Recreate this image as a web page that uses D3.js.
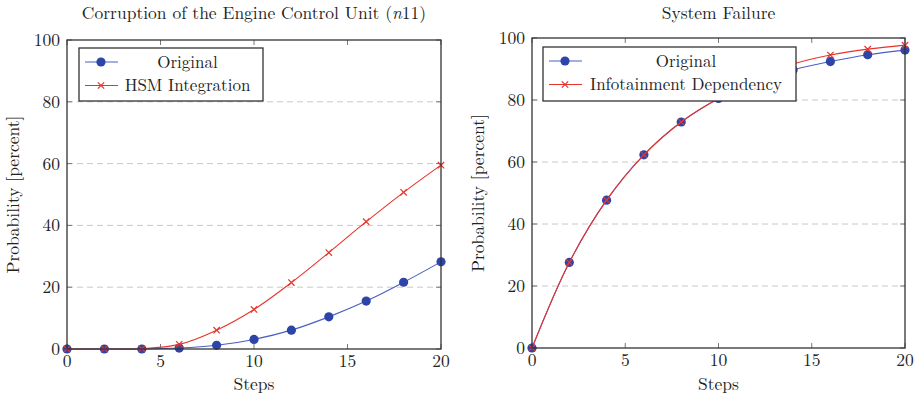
<!DOCTYPE html>
<html lang="en">
<head>
<meta charset="UTF-8">
<title>Probability charts</title>
<style>
  body { margin: 0; background: #fff; }
</style>
</head>
<body>
<script src="https://cdnjs.cloudflare.com/ajax/libs/d3/7.8.5/d3.min.js"></script>
<script>
// data
var steps = [0, 2, 4, 6, 8, 10, 12, 14, 16, 18, 20];
var ecuOriginal = [0, 0, 0, 0.3, 1.2, 3.1, 6.1, 10.4, 15.5, 21.6, 28.2];
var ecuHsm      = [0, 0, 0.1, 1.5, 6.1, 12.8, 21.5, 31.2, 41.2, 50.7, 59.5];
var sysOriginal = [0, 27.6, 47.7, 62.3, 72.9, 80.5, 86.0, 89.7, 92.4, 94.6, 96.1];
var sysInfo     = [0, 27.6, 47.7, 62.3, 72.9, 80.5, 87.2, 91.6, 94.5, 96.4, 97.7];
var xTicks = [0, 5, 10, 15, 20];
var yTicks = [0, 20, 40, 60, 80, 100];

var blueLine = "#4a5ec4", blueMark = "#2d44a8", red = "#e8332c";
var FONT = "'Latin Modern Roman', 'Liberation Serif'";
var FS = "17.5px";

var svg = d3.select("body").append("svg")
    .attr("width", 921).attr("height", 395);

function txt(sel, size) {
  return sel.style("font-family", FONT).style("font-size", size || FS).attr("fill", "#222");
}

function panel(opt) {
  var x = d3.scaleLinear().domain([0, 20]).range([opt.left, opt.right]);
  var y = d3.scaleLinear().domain([0, 100]).range([opt.bottom, opt.top]);
  var g = svg.append("g");

  // grid
  g.selectAll(".grid").data(yTicks.filter(function(d){ return d > 0 && d < 100; }))
    .enter().append("line")
    .attr("x1", opt.left).attr("x2", opt.right)
    .attr("y1", function(d){ return y(d); }).attr("y2", function(d){ return y(d); })
    .attr("stroke", "#c8c8c8").attr("stroke-width", 1).attr("stroke-dasharray", "6,4");

  // inner ticks
  xTicks.forEach(function(t) {
    g.append("line").attr("x1", x(t)).attr("x2", x(t)).attr("y1", opt.bottom).attr("y2", opt.bottom - 5).attr("stroke", "#777");
    g.append("line").attr("x1", x(t)).attr("x2", x(t)).attr("y1", opt.top).attr("y2", opt.top + 5).attr("stroke", "#777");
  });
  yTicks.forEach(function(t) {
    g.append("line").attr("x1", opt.left).attr("x2", opt.left + 5).attr("y1", y(t)).attr("y2", y(t)).attr("stroke", "#777");
    g.append("line").attr("x1", opt.right).attr("x2", opt.right - 5).attr("y1", y(t)).attr("y2", y(t)).attr("stroke", "#777");
  });

  // tick labels
  txt(g.selectAll(".xl").data(xTicks).enter().append("text")
    .attr("x", function(d){ return x(d); }).attr("y", opt.bottom + 17.5)
    .attr("text-anchor", "middle")).text(function(d){ return d; });
  txt(g.selectAll(".yl").data(yTicks).enter().append("text")
    .attr("x", opt.left - 7).attr("y", function(d){ return y(d) + 6; })
    .attr("text-anchor", "end")).text(function(d){ return d; });

  // labels
  txt(g.append("text").attr("x", (opt.left + opt.right) / 2).attr("y", 390)
    .attr("text-anchor", "middle")).text("Steps");
  txt(g.append("text").attr("transform", "translate(" + (opt.left - 48) + "," + ((opt.top + opt.bottom) / 2) + ") rotate(-90)")
    .attr("text-anchor", "middle")).text("Probability [percent]");
  var title = txt(g.append("text").attr("x", (opt.left + opt.right) / 2).attr("y", 18.5)
    .attr("text-anchor", "middle"));
  title.text(opt.title);
  if (opt.titleItalic) {
    title.append("tspan").text(" (");
    title.append("tspan").style("font-style", "italic").text("n");
    title.append("tspan").text("11)");
  }

  var line = d3.line().x(function(d){ return x(d[0]); }).y(function(d){ return y(d[1]); })
    .curve(d3.curveCatmullRom.alpha(0.5));

  var s1 = steps.map(function(s, i){ return [s, opt.a[i]]; });
  var s2 = steps.map(function(s, i){ return [s, opt.b[i]]; });
  g.append("path").datum(s1).attr("d", line).attr("fill", "none").attr("stroke", blueLine).attr("stroke-width", 1.1);
  g.selectAll(".dot").data(s1).enter().append("circle")
    .attr("cx", function(d){ return x(d[0]); }).attr("cy", function(d){ return y(d[1]); })
    .attr("r", 4.6).attr("fill", blueMark);

  g.append("path").datum(s2).attr("d", line).attr("fill", "none").attr("stroke", red).attr("stroke-width", 1.1);
  var cross = d3.symbol().type(d3.symbolX).size(28);
  g.selectAll(".cross").data(s2).enter().append("path")
    .attr("d", cross)
    .attr("transform", function(d){ return "translate(" + x(d[0]) + "," + y(d[1]) + ")"; })
    .attr("fill", "none").attr("stroke", red).attr("stroke-width", 1.2);

  // frame
  g.append("rect").attr("x", opt.left).attr("y", opt.top)
    .attr("width", opt.right - opt.left).attr("height", opt.bottom - opt.top)
    .attr("fill", "none").attr("stroke", "#333").attr("stroke-width", 1.3);

  // legend
  var L = opt.legend;
  var lg = g.append("g");
  lg.append("rect").attr("x", L.x).attr("y", L.y).attr("width", L.w).attr("height", L.h)
    .attr("fill", "#fff").attr("stroke", "#333").attr("stroke-width", 1.3);
  var r1 = L.y + 14, r2 = L.y + 37.5;
  lg.append("line").attr("x1", L.x + 6).attr("x2", L.x + 39).attr("y1", r1).attr("y2", r1).attr("stroke", blueLine).attr("stroke-width", 1.1);
  lg.append("circle").attr("cx", L.x + 22).attr("cy", r1).attr("r", 4.6).attr("fill", blueMark);
  lg.append("line").attr("x1", L.x + 6).attr("x2", L.x + 39).attr("y1", r2).attr("y2", r2).attr("stroke", red).attr("stroke-width", 1.1);
  lg.append("path").attr("d", cross).attr("transform", "translate(" + (L.x + 22) + "," + r2 + ")")
    .attr("fill", "none").attr("stroke", red).attr("stroke-width", 1.2);
  var cx = (L.x + 44 + L.x + L.w - 11) / 2;
  txt(lg.append("text").attr("x", cx).attr("y", r1 + 5.5).attr("text-anchor", "middle"), "17px").text("Original");
  txt(lg.append("text").attr("x", cx).attr("y", r2 + 5.5).attr("text-anchor", "middle"), "17px").text(opt.label2);
}

panel({
  left: 67, right: 441, top: 40, bottom: 349,
  title: "Corruption of the Engine Control Unit", titleItalic: true,
  a: ecuOriginal, b: ecuHsm, label2: "HSM Integration",
  legend: { x: 79, y: 48, w: 184, h: 53 }
});
panel({
  left: 532, right: 905, top: 38, bottom: 348,
  title: "System Failure", titleItalic: false,
  a: sysOriginal, b: sysInfo, label2: "Infotainment Dependency",
  legend: { x: 543, y: 47, w: 253, h: 54 }
});
</script>
</body>
</html>
